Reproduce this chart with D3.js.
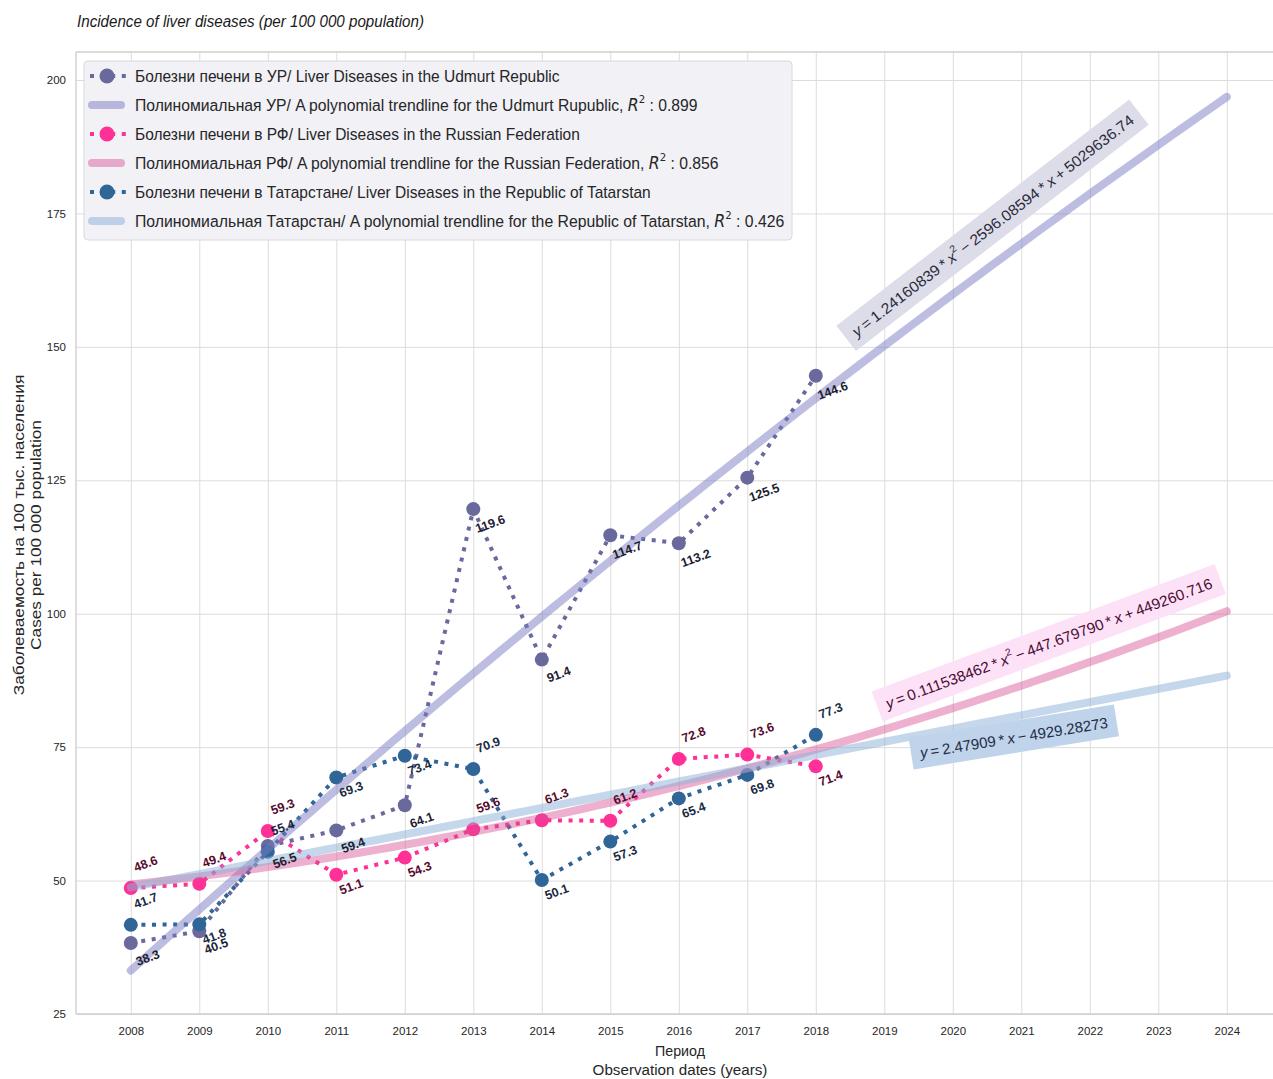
<!DOCTYPE html>
<html>
<head>
<meta charset="utf-8">
<script src="https://cdn.jsdelivr.net/npm/d3@7"></script>
<style>
  body { margin: 0; background: #fff; }
  text { font-family: "Liberation Sans", Arial, sans-serif; }
</style>
</head>
<body>
<svg id="chart" width="1273" height="1079"></svg>
<script>
// ---- data ----
const years = [2008, 2009, 2010, 2011, 2012, 2013, 2014, 2015, 2016, 2017, 2018];
const udmurt = [38.3, 40.5, 56.5, 59.4, 64.1, 119.6, 91.4, 114.7, 113.2, 125.5, 144.6];
const russia = [48.6, 49.4, 59.3, 51.1, 54.3, 59.6, 61.3, 61.2, 72.8, 73.6, 71.4];
const tatarstan = [41.7, 41.8, 55.4, 69.3, 73.4, 70.9, 50.1, 57.3, 65.4, 69.8, 77.3];

const xTicks = [2008, 2009, 2010, 2011, 2012, 2013, 2014, 2015, 2016, 2017, 2018,
                2019, 2020, 2021, 2022, 2023, 2024];
const yTicks = [25, 50, 75, 100, 125, 150, 175, 200];
const trendEnd = 2024;

const legendLabels = [
  "Болезни печени в УР/ Liver Diseases in the Udmurt Republic",
  "Полиномиальная УР/ A polynomial trendline for the Udmurt Rupublic, ",
  "Болезни печени в РФ/ Liver Diseases in the Russian Federation",
  "Полиномиальная РФ/ A polynomial trendline for the Russian Federation, ",
  "Болезни печени в Татарстане/ Liver Diseases in the Republic of Tatarstan",
  "Полиномиальная Татарстан/ A polynomial trendline for the Republic of Tatarstan, "
];
const rSquared = ["0.899", "0.856", "0.426"];

// ---- layout ----
const svg = d3.select("#chart");
const plotL = 76, plotT = 52, plotB = 1014, plotR = 1273;
const x = d3.scaleLinear().domain([2007.2, 2024.8]).range([plotL, 1281.6]);
const y = d3.scaleLinear().domain([25, 205.25]).range([plotB, plotT]);

// least-squares polynomial fit (centred x for numerical stability)
function polyfit(xs, ys, deg) {
  const x0 = d3.mean(xs), n = deg + 1;
  const A = Array.from({length: n}, () => Array(n + 1).fill(0));
  xs.forEach((xv, i) => {
    const t = xv - x0;
    for (let r = 0; r < n; r++) {
      for (let c = 0; c < n; c++) A[r][c] += Math.pow(t, r + c);
      A[r][n] += ys[i] * Math.pow(t, r);
    }
  });
  for (let i = 0; i < n; i++) {
    let p = i;
    for (let k = i + 1; k < n; k++) if (Math.abs(A[k][i]) > Math.abs(A[p][i])) p = k;
    [A[i], A[p]] = [A[p], A[i]];
    for (let k = i + 1; k < n; k++) {
      const f = A[k][i] / A[i][i];
      for (let c = i; c <= n; c++) A[k][c] -= f * A[i][c];
    }
  }
  const coef = Array(n).fill(0);
  for (let i = n - 1; i >= 0; i--) {
    let s = A[i][n];
    for (let c = i + 1; c < n; c++) s -= A[i][c] * coef[c];
    coef[i] = s / A[i][i];
  }
  return xv => coef.reduce((s, cf, k) => s + cf * Math.pow(xv - x0, k), 0);
}

// scale a text element horizontally so it spans the given width
function fitText(t, cx, cy, angle, width) {
  const w = t.node().getComputedTextLength();
  const s = width ? width / w : 1;
  t.attr("transform", `translate(${cx},${cy}) rotate(${angle}) scale(${s},1)`);
  return s;
}

// ---- grid & axes ----
const xAxis = svg.append("g")
  .attr("transform", `translate(0,${plotB})`)
  .call(d3.axisBottom(x).tickValues(xTicks).tickFormat(d3.format("d"))
        .tickSize(-(plotB - plotT)).tickPadding(13));
const yAxis = svg.append("g")
  .attr("transform", `translate(${plotL},0)`)
  .call(d3.axisLeft(y).tickValues(yTicks).tickSize(-(plotR - plotL)).tickPadding(10));
[xAxis, yAxis].forEach(g => {
  g.select(".domain").remove();
  g.selectAll(".tick line").attr("stroke", "#dcdcdc").attr("stroke-width", 1);
  g.selectAll(".tick text").attr("fill", "#262626").attr("font-size", 11.5)
    .attr("font-family", "'Liberation Sans', Arial, sans-serif");
});

// frame
const spine = "#cfcfcf";
svg.append("line").attr("x1", plotL).attr("x2", plotL).attr("y1", plotT).attr("y2", plotB)
  .attr("stroke", spine).attr("stroke-width", 1.4);
svg.append("line").attr("x1", plotL).attr("x2", plotR).attr("y1", plotT).attr("y2", plotT)
  .attr("stroke", spine).attr("stroke-width", 1.4);
svg.append("line").attr("x1", plotL).attr("x2", plotR).attr("y1", plotB).attr("y2", plotB)
  .attr("stroke", spine).attr("stroke-width", 1.4);

// ---- series ----
const series = [
  {name: "udmurt", values: udmurt, color: "#6a699d", labelColor: "#1d1d30", deg: 2,
   trend: "rgba(124,124,196,0.5)", sides: "bbbbbbbbbbb"},
  {name: "russia", values: russia, color: "#ff3096", labelColor: "#560a2e", deg: 2,
   trend: "rgba(216,80,148,0.45)", sides: "aaabbaaaaab"},
  {name: "tatarstan", values: tatarstan, color: "#2f6597", labelColor: "#19293f", deg: 1,
   trend: "rgba(140,176,216,0.5)", sides: "ababbabbbba"}
];

const line = d3.line().x(d => x(d[0])).y(d => y(d[1]));

series.forEach(s => {
  const pts = years.map((yr, i) => [yr, s.values[i]]);
  svg.append("path").attr("d", line(pts)).attr("fill", "none")
    .attr("stroke", s.color).attr("stroke-width", 4).attr("stroke-dasharray", "4,6.6");
  svg.selectAll(null).data(pts).enter().append("circle")
    .attr("cx", d => x(d[0])).attr("cy", d => y(d[1])).attr("r", 7)
    .attr("fill", s.color);
});

// trendlines
series.forEach(s => {
  const f = polyfit(years, s.values, s.deg);
  const grid = d3.range(years[0], trendEnd + 0.001, 0.2).map(v => [v, f(v)]);
  svg.append("path").attr("d", line(grid)).attr("fill", "none")
    .attr("stroke", s.trend).attr("stroke-width", 8).attr("stroke-linecap", "round");
});

// value labels
series.forEach(s => {
  years.forEach((yr, i) => {
    const v = s.values[i];
    const above = s.sides[i] === "a";
    const dx = s.name === "udmurt" ? 17 : 15;
    const dy = above ? -24 : (s.name === "udmurt" ? 15 : 12);
    svg.append("text")
      .attr("text-anchor", "middle").attr("dominant-baseline", "central")
      .attr("transform", `translate(${x(yr) + dx},${y(v) + dy}) rotate(-20)`)
      .attr("font-size", 12.5).attr("font-weight", "bold").attr("fill", s.labelColor)
      .text(v.toFixed(1));
  });
});

// ---- trend equations ----
const eqFont = "'DejaVu Sans', sans-serif";
const thin = "\u2009";
function equation(parts, pos, style) {
  const g = svg.append("g");
  const t = g.append("text").attr("text-anchor", "middle").attr("dominant-baseline", "central")
    .attr("font-family", eqFont).attr("font-size", 15).attr("fill", style.color);
  parts.forEach(p => {
    const ts = t.append("tspan").text(p.t);
    if (p.i) ts.attr("font-style", "italic");
    if (p.sup) ts.attr("font-size", 10).attr("dy", -6);
    if (p.after) ts.attr("dy", 6);
  });
  const cx = x(pos[0]), cy = y(pos[1]);
  fitText(t, cx, cy, style.angle, style.width);
  g.insert("rect", "text")
    .attr("x", -style.width / 2 - 9).attr("y", -16).attr("width", style.width + 18).attr("height", 32)
    .attr("fill", style.box)
    .attr("transform", `translate(${cx},${cy}) rotate(${style.angle})`);
}

equation([
  {t: "y", i: 1}, {t: `${thin}=${thin}1.24160839${thin}*${thin}`}, {t: "x", i: 1}, {t: "2", sup: 1},
  {t: `${thin}−${thin}2596.08594${thin}*${thin}`, after: 1}, {t: "x", i: 1},
  {t: `${thin}+${thin}5029636.74`}
], [2020.58, 172.8], {angle: -37.7, width: 352, box: "#dddde9", color: "#2b2b3b"});

equation([
  {t: "y", i: 1}, {t: `${thin}=${thin}0.111538462${thin}*${thin}`}, {t: "x", i: 1}, {t: "2", sup: 1},
  {t: `${thin}−${thin}447.679790${thin}*${thin}`, after: 1}, {t: "x", i: 1},
  {t: `${thin}+${thin}449260.716`}
], [2021.40, 94.55], {angle: -20.4, width: 348, box: "#fde1f7", color: "#4a0c33"});

equation([
  {t: "y", i: 1}, {t: `${thin}=${thin}2.47909${thin}*${thin}`}, {t: "x", i: 1},
  {t: `${thin}−${thin}4929.28273`}
], [2020.89, 76.9], {angle: -9.2, width: 190, box: "#bfd3ea", color: "#1e2c44"});

// ---- legend ----
const lg = svg.append("g");
lg.append("rect").attr("x", 84).attr("y", 61).attr("width", 708).attr("height", 179).attr("rx", 4)
  .attr("fill", "#f1f1f6").attr("stroke", "#d8d8df").attr("stroke-width", 1);
const legendWidths = [425, 563, 445, 584, 516, 650];
legendLabels.forEach((lab, i) => {
  const s = series[Math.floor(i / 2)];
  const cy = 76 + i * 29;
  if (i % 2 === 0) {
    lg.append("line").attr("x1", 90).attr("x2", 126).attr("y1", cy).attr("y2", cy)
      .attr("stroke", s.color).attr("stroke-width", 4).attr("stroke-dasharray", "4,6.6");
    lg.append("circle").attr("cx", 107).attr("cy", cy).attr("r", 7.5).attr("fill", s.color);
  } else {
    lg.append("line").attr("x1", 92).attr("x2", 121).attr("y1", cy).attr("y2", cy)
      .attr("stroke", s.trend).attr("stroke-width", 8).attr("stroke-linecap", "round");
  }
  const t = lg.append("text").attr("dominant-baseline", "central")
    .attr("font-size", 17).attr("fill", "#262626");
  t.append("tspan").text(lab);
  if (i % 2 === 1) {
    t.append("tspan").attr("font-family", eqFont).attr("font-style", "italic").text("R");
    t.append("tspan").attr("font-family", eqFont).attr("font-size", 11).attr("dy", -6).text("2");
    t.append("tspan").attr("dy", 6).text(" : " + rSquared[(i - 1) / 2]);
  }
  fitText(t, 135, cy, 0, legendWidths[i]);
});

// ---- titles ----
const title = svg.append("text").attr("font-size", 16).attr("font-style", "italic")
  .attr("fill", "#1a1a1a").attr("dominant-baseline", "central")
  .text("Incidence of liver diseases (per 100 000 population)");
fitText(title, 77, 21, 0, 347);

const xl1 = svg.append("text").attr("text-anchor", "middle").attr("dominant-baseline", "central")
  .attr("font-size", 15).attr("fill", "#262626").text("Период");
fitText(xl1, 680, 1051, 0, 50);
const xl2 = svg.append("text").attr("text-anchor", "middle").attr("dominant-baseline", "central")
  .attr("font-size", 15).attr("fill", "#262626").text("Observation dates (years)");
fitText(xl2, 680, 1070, 0, 175);

const yl1 = svg.append("text").attr("text-anchor", "middle").attr("dominant-baseline", "central")
  .attr("font-size", 15).attr("fill", "#262626").text("Заболеваемость на 100 тыс. населения");
fitText(yl1, 18, 535, -90, 321);
const yl2 = svg.append("text").attr("text-anchor", "middle").attr("dominant-baseline", "central")
  .attr("font-size", 15).attr("fill", "#262626").text("Cases per 100 000 population");
fitText(yl2, 35, 535, -90, 230);
</script>
</body>
</html>
